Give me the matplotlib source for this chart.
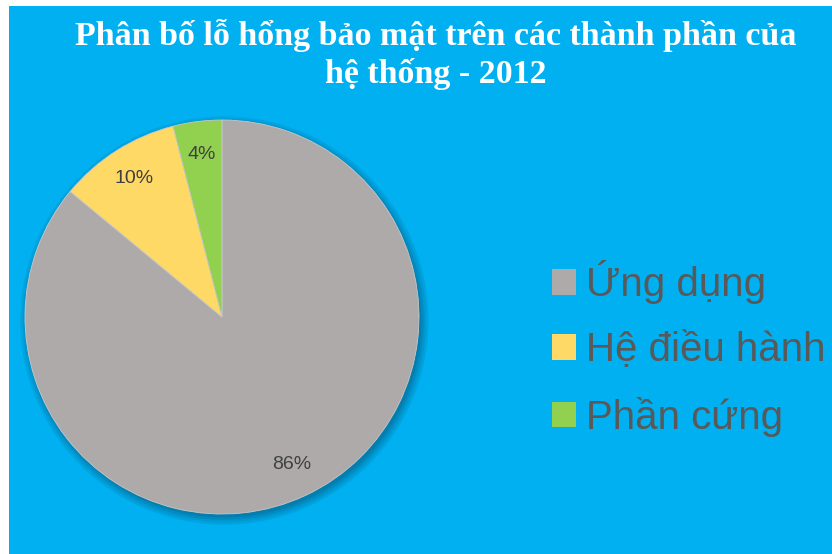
import matplotlib.pyplot as plt
from matplotlib.patches import Rectangle, Circle, Patch

# data
labels = ["Ứng dụng", "Hệ điều hành", "Phần cứng"]
values = [86, 10, 4]
colors = ["#AEAAAA", "#FFD966", "#92D050"]
title = "Phân bố lỗ hổng bảo mật trên các thành phần của\nhệ thống - 2012"

W, H = 832, 554
fig = plt.figure(figsize=(W / 100, H / 100), dpi=100)
fig.patch.set_facecolor("white")

# blue chart area
fig.patches.append(Rectangle((9 / W, 0), 1 - 9 / W, 1 - 6 / H, transform=fig.transFigure,
                             facecolor="#00B0F0", edgecolor="none", zorder=-10))

# pie axes: centre (222, 317), radius 197 px
cx, cy, r = 222, 317, 197
ax = fig.add_axes([(cx - r) / W, (H - cy - r) / H, 2 * r / W, 2 * r / H])
ax.set_facecolor("none")
ax.axis("off")

# soft shadow behind the pie
for i, a in enumerate([0.10, 0.10, 0.12, 0.15]):
    rad = 1.0 + 0.012 * (3 - i)
    ax.add_patch(Circle((0.012, -0.018), rad, facecolor="#0A3550", alpha=a,
                        edgecolor="none", zorder=0, clip_on=False))

wedges, texts, autotexts = ax.pie(values, colors=colors, startangle=90, counterclock=False,
                                  autopct="%d%%", pctdistance=0.83, radius=1.0,
                                  wedgeprops=dict(linewidth=0.6, edgecolor="#C8C8C8"),
                                  textprops=dict(color="#404040", fontsize=14,
                                                 family="Liberation Sans"))
for w in wedges:
    w.set_zorder(2)
    w.set_clip_on(False)
for t in autotexts:
    t.set_zorder(3)
ax.set_xlim(-1, 1)
ax.set_ylim(-1, 1)
ax.set_aspect("auto")

fig.text(436 / W, 1 - 19 / H, title, ha="center", va="top", color="white",
         fontsize=24.5, fontweight="bold", family="Liberation Serif", linespacing=1.25)

handles = [Patch(facecolor=c, edgecolor="none") for c in colors]
leg = fig.legend(handles, labels, loc="upper left", bbox_to_anchor=(552 / W, 1 - 260 / H),
                 frameon=False, handlelength=0.6, handleheight=0.6,
                 handletextpad=0.25, labelspacing=0.68, borderpad=0, borderaxespad=0,
                 prop=dict(family="Liberation Sans", size=29))
for t in leg.get_texts():
    t.set_color("#595959")

fig.savefig("out.png", dpi=100)
